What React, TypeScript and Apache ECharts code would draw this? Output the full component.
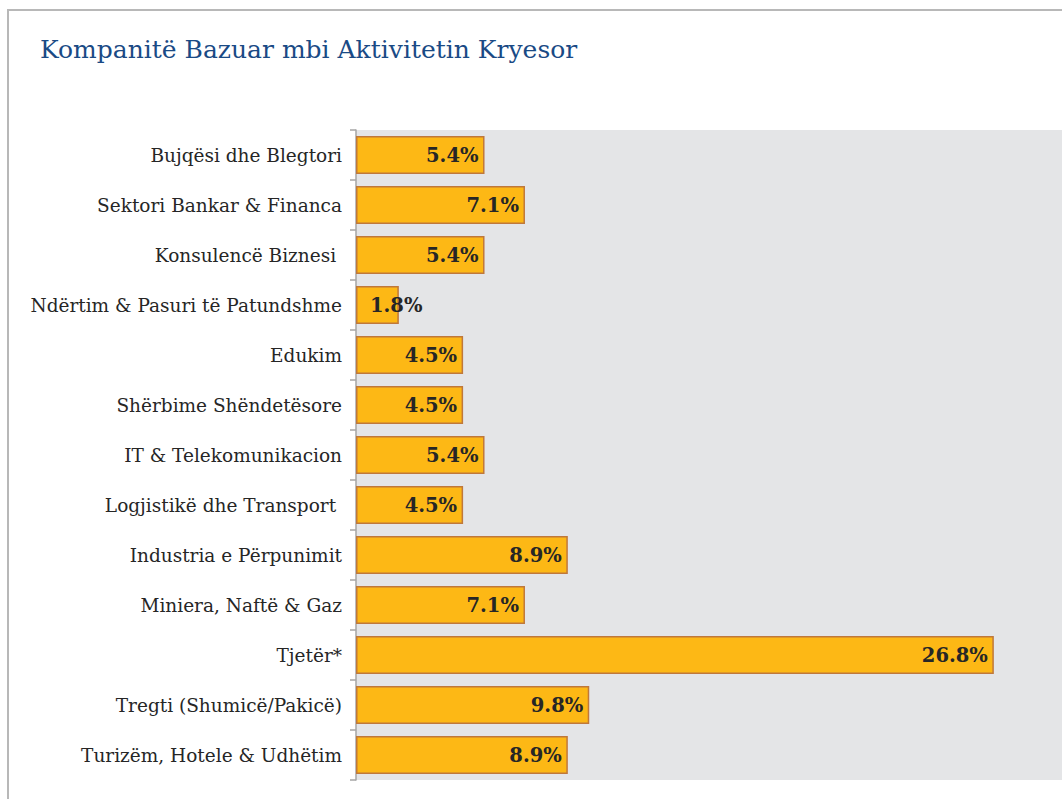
import React, { useEffect, useRef } from "react";
import * as echarts from "echarts";

const TITLE = "Kompanitë Bazuar mbi Aktivitetin Kryesor";

const categories = [
  "Bujqësi dhe Blegtori",
  "Sektori Bankar & Financa",
  "Konsulencë Biznesi ",
  "Ndërtim & Pasuri të Patundshme",
  "Edukim",
  "Shërbime Shëndetësore",
  "IT & Telekomunikacion",
  "Logjistikë dhe Transport ",
  "Industria e Përpunimit",
  "Miniera, Naftë & Gaz",
  "Tjetër*",
  "Tregti (Shumicë/Pakicë)",
  "Turizëm, Hotele & Udhëtim",
];

const values = [5.4, 7.1, 5.4, 1.8, 4.5, 4.5, 5.4, 4.5, 8.9, 7.1, 26.8, 9.8, 8.9];

const FONT = "DejaVu Serif";

export default function App() {
  const ref = useRef<HTMLDivElement>(null);

  useEffect(() => {
    if (!ref.current) return;
    const chart = echarts.init(ref.current, null, { renderer: "svg" });

    const data = values.map((v) => {
      if (v < 3) {
        return {
          value: v,
          label: { position: "insideLeft", distance: 14 },
        };
      }
      return { value: v };
    });

    chart.setOption({
      animation: false,
      backgroundColor: "#ffffff",
      graphic: [
        {
          type: "rect",
          shape: { x: 8, y: 10, width: 1100, height: 900 },
          style: { fill: "none", stroke: "#b8b8b8", lineWidth: 2 },
          silent: true,
        },
        {
          type: "text",
          x: 40,
          y: 37,
          style: {
            text: TITLE,
            fill: "#1a4a85",
            font: `25px "${FONT}"`,
          },
        },
      ],
      grid: {
        left: 356,
        top: 130,
        height: 650,
        width: 714,
        show: true,
        backgroundColor: "#e4e5e7",
        borderWidth: 0,
        containLabel: false,
      },
      xAxis: {
        type: "value",
        min: 0,
        max: 30,
        show: false,
      },
      yAxis: {
        type: "category",
        data: categories,
        inverse: true,
        axisLine: { show: true, lineStyle: { color: "#a6a6a6", width: 1.5 } },
        axisTick: {
          show: true,
          length: 6,
          alignWithLabel: false,
          lineStyle: { color: "#a6a6a6", width: 1.5 },
        },
        axisLabel: {
          margin: 14,
          color: "#262626",
          fontFamily: FONT,
          fontSize: 18.5,
        },
      },
      series: [
        {
          type: "bar",
          data,
          barWidth: 38,
          itemStyle: {
            color: "#fdb815",
            borderColor: "#c0783a",
            borderWidth: 1.5,
          },
          label: {
            show: true,
            position: "insideRight",
            distance: 6,
            formatter: (p: any) => `${p.value.toFixed(1)}%`,
            color: "#262626",
            fontFamily: FONT,
            fontWeight: "bold",
            fontSize: 19.5,
          },
        },
      ],
    });

    return () => chart.dispose();
  }, []);

  return (
    <div
      style={{
        position: "fixed",
        left: 0,
        top: 0,
        width: 1062,
        height: 799,
        overflow: "hidden",
      }}
    >
      <div ref={ref} style={{ width: 1090, height: 799 }} />
    </div>
  );
}
